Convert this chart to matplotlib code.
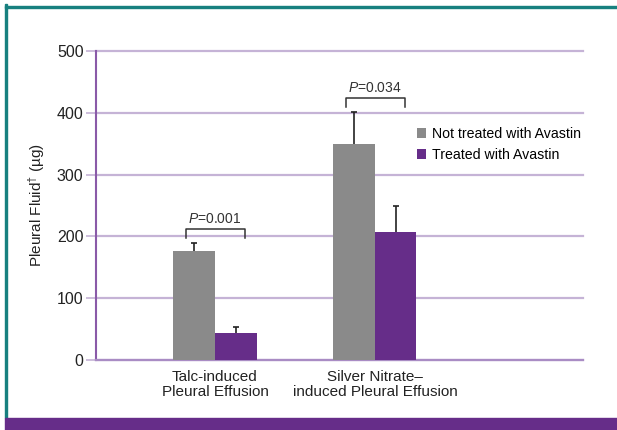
import matplotlib
matplotlib.use("Agg")
import matplotlib.pyplot as plt
from matplotlib.patches import Rectangle
import numpy as np

plt.rcParams['font.family'] = ['Liberation Sans', 'DejaVu Sans']
plt.rcParams['mathtext.fontset'] = 'custom'
plt.rcParams['mathtext.rm'] = 'Liberation Sans'
plt.rcParams['mathtext.it'] = 'Liberation Sans:italic'

# data
groups = ["Talc-induced\nPleural Effusion", "Silver Nitrate–\ninduced Pleural Effusion"]
not_treated = [176, 350]
not_treated_err = [13, 52]
treated = [44, 207]
treated_err = [9, 42]
p_values = ["0.001", "0.034"]
bracket_y = [212, 424]

gray = "#8a8a8a"
purple = "#662d89"
teal = "#17807f"
text_col = "#222222"

fig = plt.figure(figsize=(6.17, 4.30), dpi=100)

# frame: teal border top/left, purple band at bottom
fig.patches.append(Rectangle((0.008, 0.028), 0.004, 0.962, transform=fig.transFigure,
                             color=teal, zorder=0))
fig.patches.append(Rectangle((0.008, 0.981), 0.992, 0.006, transform=fig.transFigure,
                             color=teal, zorder=0))
fig.patches.append(Rectangle((0.008, 0.0), 0.992, 0.028, transform=fig.transFigure,
                             color=purple, zorder=0))

ax = fig.add_axes([0.1556, 0.1628, 0.789, 0.7186])
x = np.arange(1, len(groups) + 1)
w = 0.26

ax.bar(x - w / 2, not_treated, w, color=gray, zorder=3, label="Not treated with Avastin")
ax.bar(x + w / 2, treated, w, color=purple, zorder=3, label="Treated with Avastin")
for xs, vals, errs in [(x - w / 2, not_treated, not_treated_err), (x + w / 2, treated, treated_err)]:
    eb = ax.errorbar(xs, vals, yerr=[np.zeros(2), errs], fmt="none", ecolor="#222222",
                     elinewidth=1.2, capsize=2.5, capthick=1.2, zorder=4)
    eb[1][0].set_visible(False)  # hide lower cap

# significance brackets
for xi, by, p in zip(x, bracket_y, p_values):
    x0, x1 = xi - 0.18, xi + 0.185
    ax.plot([x0, x0, x1, x1], [by - 15, by, by, by - 15], color="#333333", lw=1.1,
            zorder=5, clip_on=False)
    ax.text(xi, by + 5, "$\\it{P}$=" + p, ha="center", va="bottom", fontsize=10,
            color="#333333")

ax.set_xlim(0.256, 3.3)
ax.set_ylim(0, 500)
ax.set_yticks(range(0, 501, 100))
ax.set_xticks(x)
ax.set_xticklabels(groups, fontsize=11, color=text_col, linespacing=1.1)
ax.tick_params(axis="x", length=0, pad=7)
ax.tick_params(axis="y", length=7, width=1.2, color="#c5b3d6", labelsize=11.5,
               labelcolor=text_col, pad=2)
ax.yaxis.grid(True, color="#c5b3d6", lw=1.6, zorder=0)
for gl in ax.get_ygridlines():
    gl.set_clip_on(False)
ax.set_axisbelow(True)
for s in ["top", "right"]:
    ax.spines[s].set_visible(False)
ax.spines["left"].set_color("#8a5aa8")
ax.spines["left"].set_linewidth(1.5)
ax.spines["left"].set_zorder(2)
ax.spines["bottom"].set_color("#a98cc4")
ax.spines["bottom"].set_linewidth(1.6)

ax.set_ylabel("Pleural Fluid$^{\\dagger}$ (µg)", fontsize=11, color=text_col, labelpad=7)

ax.legend(loc="upper left", bbox_to_anchor=(0.647, 0.772), frameon=False, fontsize=10.2,
          handlelength=0.65, handleheight=0.65, handletextpad=0.4, labelspacing=0.5,
          borderaxespad=0)

fig.savefig("out.png", dpi=100)
